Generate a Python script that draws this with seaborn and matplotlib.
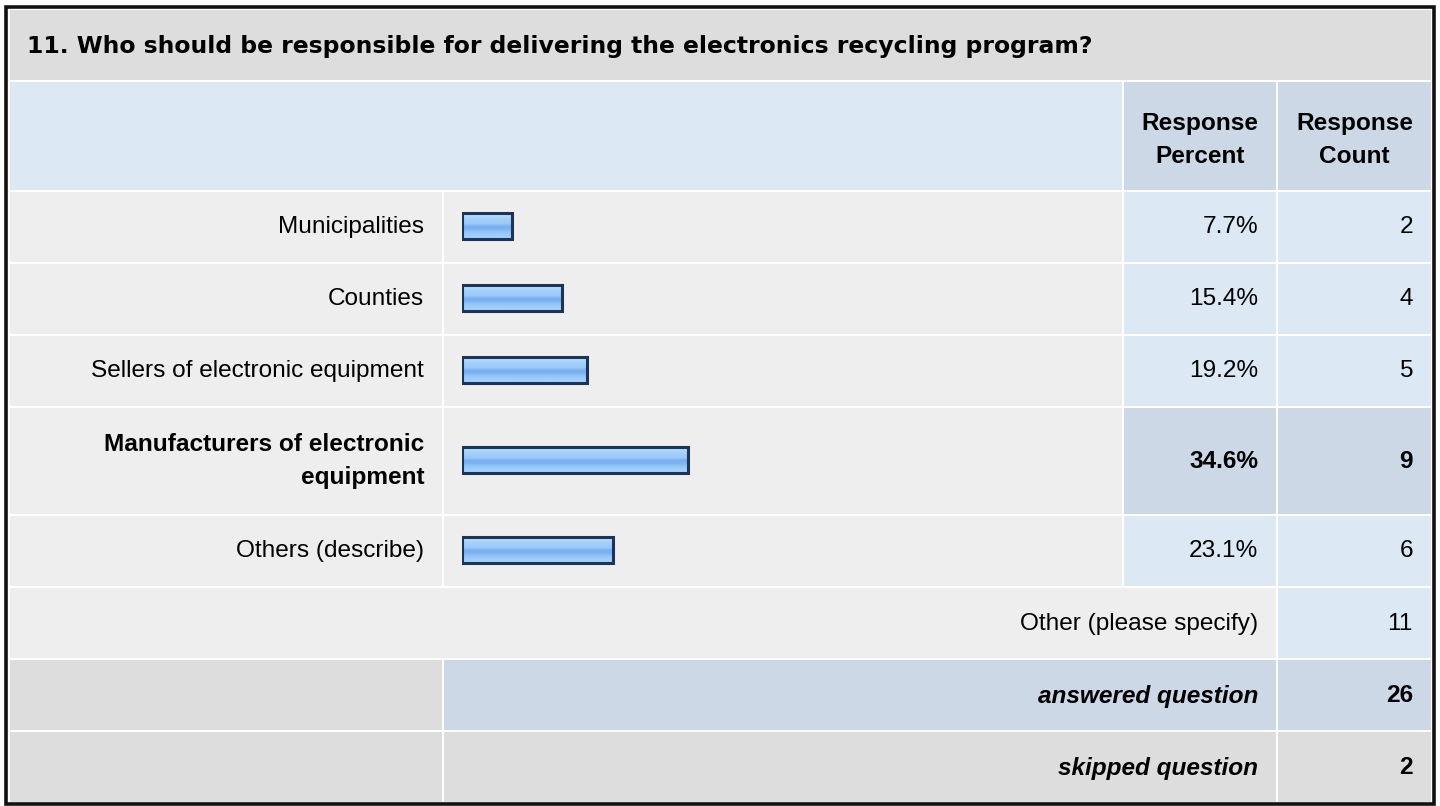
import matplotlib
matplotlib.use('Agg')
import matplotlib.pyplot as plt
from matplotlib.patches import Rectangle
from matplotlib.colors import to_rgb
import numpy as np
import pandas as pd
import seaborn as sns

# 数据
question = "11. Who should be responsible for delivering the electronics recycling program?"
choices = ["Municipalities", "Counties", "Sellers of electronic equipment",
           "Manufacturers of electronic\nequipment", "Others (describe)"]
percents = [7.7, 15.4, 19.2, 34.6, 23.1]
counts = [2, 4, 5, 9, 6]
other_label = "Other (please specify)"
other_count = 11
answered = 26
skipped = 2

# 配色
GRAY_D = '#dddddd'
GRAY_L = '#eeeeee'
BLUE_L = '#dde8f5'
BLUE_M = '#ccd8e6'
EDGE = '#1c3557'

sns.set_style('white')
plt.rcParams['font.family'] = ['Liberation Sans', 'DejaVu Sans']
plt.rcParams['text.color'] = '#000000'
FS = 17.6
TITLE_FONT = ['DejaVu Sans']
TITLE_FS = 16.9

W, H = 1440, 806
fig = plt.figure(figsize=(W / 100, H / 100), dpi=100)
ax = fig.add_axes([0, 0, 1, 1])
ax.set_xlim(0, W)
ax.set_ylim(H, 0)
ax.axis('off')

# 列边界 (像素)
xc = [10, 442, 444, 1122, 1124, 1276, 1278, 1431]
# 行边界
rows_y = [(192, 262), (264, 334), (336, 406), (408, 514), (516, 586)]


def cell(x0, x1, y0, y1, color):
    ax.add_patch(Rectangle((x0, y0), x1 - x0, y1 - y0, facecolor=color,
                           edgecolor='none', zorder=1))


def txt(x, y, s, **kw):
    kw.setdefault('fontsize', FS)
    kw.setdefault('va', 'center')
    kw.setdefault('ha', 'right')
    ax.text(x, y, s, zorder=5, **kw)


# 外框
ax.add_patch(Rectangle((6, 6.5), 1428, 797.5, facecolor='white',
                       edgecolor='#111111', linewidth=2.6, zorder=0))

# 标题行
cell(xc[0], xc[7], 10, 80, GRAY_D)
txt(27, 46, question, fontsize=TITLE_FS, family=TITLE_FONT, fontweight='bold', ha='left')

# 表头
cell(xc[0], xc[3], 82, 190, BLUE_L)
cell(xc[4], xc[5], 82, 190, BLUE_M)
cell(xc[6], xc[7], 82, 190, BLUE_M)
txt((xc[4] + xc[5]) / 2, 140, "Response\nPercent", fontweight='bold',
    ha='center', linespacing=1.58)
txt((xc[6] + xc[7]) / 2, 140, "Response\nCount", fontweight='bold',
    ha='center', linespacing=1.58)

top = max(counts)
for label, pct, cnt, (y0, y1) in zip(choices, percents, counts, rows_y):
    hi = cnt == top
    cell(xc[0], xc[1], y0, y1, GRAY_L)
    cell(xc[2], xc[3], y0, y1, GRAY_L)
    cell(xc[4], xc[5], y0, y1, BLUE_M if hi else BLUE_L)
    cell(xc[6], xc[7], y0, y1, BLUE_M if hi else BLUE_L)
    yc = (y0 + y1) / 2
    fw = 'bold' if hi else 'normal'
    txt(424, yc, label, fontweight=fw, linespacing=1.58)
    txt(1258, yc, f"{pct:.1f}%", fontweight=fw)
    txt(1413, yc, str(cnt), fontweight=fw)

# 其他
cell(xc[0], xc[5], 588, 658, GRAY_L)
cell(xc[6], xc[7], 588, 658, BLUE_L)
txt(1258, 624, other_label)
txt(1413, 624, str(other_count))

# answered / skipped
cell(xc[0], xc[1], 660, 730, GRAY_D)
cell(xc[2], xc[5], 660, 730, BLUE_M)
cell(xc[6], xc[7], 660, 730, BLUE_M)
txt(1258, 696, "answered question", fontweight='bold', fontstyle='italic')
txt(1413, 696, str(answered), fontweight='bold')

cell(xc[0], xc[1], 732, 802, GRAY_D)
cell(xc[2], xc[5], 732, 802, GRAY_D)
cell(xc[6], xc[7], 732, 802, GRAY_D)
txt(1258, 768, "skipped question", fontweight='bold', fontstyle='italic')
txt(1413, 768, str(skipped), fontweight='bold')

# 条形图: 覆盖在条形列上, y 使用像素坐标
bar_left, bar_span = 461.5, 655
bax = fig.add_axes([bar_left / W, 0, bar_span / W, 1])
bax.patch.set_alpha(0)
df = pd.DataFrame({'pct': percents,
                   'y': [(a + b) / 2 - 1.5 for a, b in rows_y]})
sns.barplot(data=df, x='pct', y='y', orient='h', native_scale=True, width=26 / 72,
            color='#9ccbfa', saturation=1, errorbar=None, edgecolor=EDGE,
            linewidth=2.2, ax=bax)

# 条形渐变
stops = ['#cbe4fe', '#b2d8fd', '#a6d1fc', '#a0cdfb', '#9ac9fa', '#7aaff0',
         '#7db2f1', '#8fc2f8', '#9dcbfa', '#a2cffb']
grad = np.array([to_rgb(c) for c in stops])[:, None, :]
for p in list(bax.patches):
    x0, y0, w, h = p.get_x(), p.get_y(), p.get_width(), p.get_height()
    im = bax.imshow(grad, extent=(x0, x0 + w, y0 + h, y0), origin='upper',
                    aspect='auto', interpolation='bilinear', zorder=2)
    im.set_clip_path(p)
    p.set_facecolor('none')
    p.set_zorder(3)

bax.set_xlim(0, 100)
bax.set_ylim(H, 0)
bax.axis('off')

plt.savefig('out.png', dpi=100)
